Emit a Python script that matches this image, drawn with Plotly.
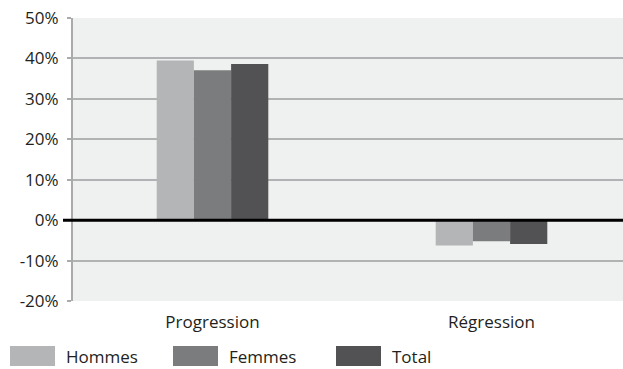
import plotly.graph_objects as go

categories = ["Progression", "Régression"]
series_names = ["Hommes", "Femmes", "Total"]
hommes = [39.5, -6.3]
femmes = [37.1, -5.2]
total = [38.6, -5.9]
series_values = [hommes, femmes, total]
colors = ["#b4b5b6", "#7b7c7d", "#525254"]
y_ticks = [-20, -10, 0, 10, 20, 30, 40, 50]
y_tick_labels = [f"{v}%" for v in y_ticks]

font_family = "Open Sans, Noto Sans, sans-serif"
text_color = "#231f20"
fs = 17

fig = go.Figure()
for name, vals, col in zip(series_names, series_values, colors):
    fig.add_trace(go.Bar(
        x=categories, y=vals, name=name,
        marker=dict(color=col, line=dict(width=0)),
        showlegend=False,
    ))

W, H = 623, 369
m_l, m_r, m_t, m_b = 73, 0, 18, 68
plot_w = W - m_l - m_r
plot_h = H - m_t - m_b

fig.update_layout(
    width=W, height=H,
    margin=dict(l=m_l, r=m_r, t=m_t, b=m_b),
    paper_bgcolor="white",
    plot_bgcolor="#eff0f0",
    barmode="group",
    bargap=0.6,
    bargroupgap=0,
    font=dict(family=font_family, size=fs, color=text_color),
)
fig.update_xaxes(
    type="category",
    range=[-0.5, -0.5 + plot_w / 279.0],
    showgrid=False, showline=False, zeroline=False,
    ticks="", ticklabelstandoff=9,
    tickfont=dict(size=fs, color=text_color),
)
fig.update_yaxes(
    range=[-20, 50],
    tickvals=y_ticks, ticktext=y_tick_labels,
    showgrid=True, gridcolor="#b1b2b3", gridwidth=1.5,
    zeroline=False,
    showline=True, linecolor="#a9aaab", linewidth=2,
    ticks="outside", ticklen=4, tickcolor="#a9aaab", tickwidth=1.5,
    ticklabelstandoff=5,
    tickfont=dict(size=fs, color=text_color),
)

# Baseline at 0%, reaching slightly left of the axis
fig.add_shape(type="line", xref="paper", yref="y",
              x0=-10 / plot_w, x1=1, y0=0, y1=0,
              line=dict(color="black", width=3), layer="above")

# Legend row with wide swatches
legend_x = [10, 173, 336]
sw_w, sw_h = 45, 20
leg_y_center = 356
for name, col, lx in zip(series_names, colors, legend_x):
    x0 = (lx - m_l) / plot_w
    x1 = (lx + sw_w - m_l) / plot_w
    y0 = (H - m_b - (leg_y_center + sw_h / 2)) / plot_h
    y1 = (H - m_b - (leg_y_center - sw_h / 2)) / plot_h
    fig.add_shape(type="rect", xref="paper", yref="paper",
                  x0=x0, x1=x1, y0=y0, y1=y1,
                  fillcolor=col, line=dict(width=0))
    fig.add_annotation(xref="paper", yref="paper",
                       x=(lx + sw_w + 9 - m_l) / plot_w,
                       y=(H - m_b - leg_y_center) / plot_h,
                       text=name, showarrow=False,
                       xanchor="left", yanchor="middle",
                       font=dict(size=fs, color=text_color))

fig.write_html("out.html")
